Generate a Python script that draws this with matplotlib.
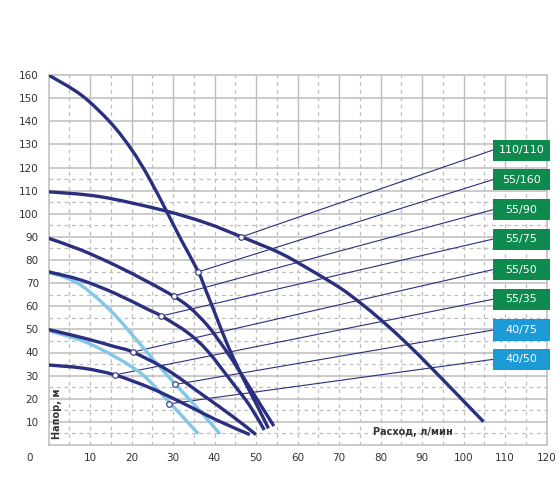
import matplotlib
matplotlib.use('Agg')
import matplotlib.pyplot as plt
from matplotlib.patches import Rectangle, PathPatch
from matplotlib.path import Path

# ---------------- data ----------------
x_ticks = [10, 20, 30, 40, 50, 60, 70, 80, 90, 100, 110, 120]
y_ticks = [10, 20, 30, 40, 50, 60, 70, 80, 90, 100, 110, 120, 130, 140, 150, 160]

# pump curves (flow l/min, head m)
c110_110_x = [0, 12.4, 27.6, 38, 46.5, 55.8, 63, 70.2, 75.1, 80.3, 86.3, 91.9, 98.4, 104.8]
c110_110_y = [109.5, 107.4, 101.5, 96, 90, 83, 75.8, 68, 61.5, 53.8, 44, 34, 22, 10.1]

c55_160_x = [0, 8, 15, 20, 24, 28.5, 32, 36.1, 38, 40, 42, 44.5, 47.5, 50.5, 53.0]
c55_160_y = [160, 151.2, 139.3, 127.8, 116.2, 100.9, 88.6, 74.9, 66.5, 57.5, 48.3, 37.8, 26.7, 16.2, 7.2]

c55_90_x = [0, 7.9, 16, 24, 30, 34, 38.4, 42.5, 46, 50, 54.3]
c55_90_y = [89.4, 84.3, 77.8, 70.5, 64.5, 59.5, 51.5, 41.5, 32, 20.5, 8.2]

c55_75_x = [0, 7.9, 16, 24, 27.2, 33.6, 38.4, 44.5, 48.5, 52.0]
c55_75_y = [74.9, 71.3, 65.6, 58.6, 55.8, 48.5, 40.5, 26.5, 17, 6.5]

c55_50_x = [0, 8.4, 16, 20.3, 28.5, 36.5, 44.5, 50.0]
c55_50_y = [49.9, 46.3, 42.5, 40.2, 32.6, 22.5, 12.2, 4.5]

c55_35_x = [0, 8.4, 16, 24.5, 32.5, 40.5, 48.5]
c55_35_y = [34.6, 33.2, 30.3, 24.7, 18, 10.8, 4.5]

c40_75_x = [0, 4, 7.9, 11.9, 16, 20, 25, 30.6, 36.5, 41.3]
c40_75_y = [74.6, 72.5, 69, 63.2, 56.2, 48, 37.5, 26.2, 14.8, 4.8]

c40_50_x = [0, 8.4, 16.4, 22.8, 29.1, 36.1]
c40_50_y = [49.4, 44.9, 37.8, 30.2, 18.5, 4.8]

labels = ['110/110', '55/160', '55/90', '55/75', '55/50', '55/35', '40/75', '40/50']
label_y = [127.5, 114.7, 101.7, 89.0, 75.8, 63.0, 49.7, 37.0]
marker_x = [46.5, 36.1, 30.2, 27.2, 20.3, 16.0, 30.6, 29.1]
marker_y = [90.0, 74.9, 64.5, 55.8, 40.2, 30.3, 26.2, 17.8]

# ---------------- styles ----------------
NAVY = '#2b2f7f'
LIGHT = '#82c6e8'
GREEN = '#0f8a4f'
BLUE = '#1b9ad6'
GRID = '#bdbdbd'
TXT = '#333333'


def smooth_path(xs, ys):
    """Cubic Bezier path through the given points (Catmull-Rom tangents)."""
    pts = list(zip(xs, ys))
    verts = [pts[0]]
    codes = [Path.MOVETO]
    n = len(pts)
    for i in range(n - 1):
        p0 = pts[i - 1] if i > 0 else pts[i]
        p1 = pts[i]
        p2 = pts[i + 1]
        p3 = pts[i + 2] if i + 2 < n else pts[i + 1]
        c1 = (p1[0] + (p2[0] - p0[0]) / 6.0, p1[1] + (p2[1] - p0[1]) / 6.0)
        c2 = (p2[0] - (p3[0] - p1[0]) / 6.0, p2[1] - (p3[1] - p1[1]) / 6.0)
        verts += [c1, c2, p2]
        codes += [Path.CURVE4] * 3
    return Path(verts, codes)


fig = plt.figure(figsize=(5.6, 5.04), dpi=100)
ax = fig.add_axes([48.5 / 560, 59 / 504, 498 / 560, 370 / 504])
ax.set_xlim(0, 120)
ax.set_ylim(0, 160)

# grid: upper zone solid, lower zone dashed verticals
for xv in range(5, 120, 5):
    ax.plot([xv, xv], [0, 120], color=GRID, lw=0.9, ls=(0, (3, 3)), zorder=1)
    if xv % 10 == 0:
        ax.plot([xv, xv], [120, 160], color=GRID, lw=1.0, zorder=1)
    else:
        ax.plot([xv, xv], [120, 160], color=GRID, lw=0.9, ls=(0, (3, 3)), zorder=1)
for yv in range(5, 160, 5):
    if yv % 10 == 0:
        ax.plot([0, 120], [yv, yv], color=GRID, lw=1.1, zorder=1)
    elif yv < 120:
        ax.plot([0, 120], [yv, yv], color=GRID, lw=0.9, ls=(0, (3, 3)), zorder=1)

for s in ax.spines.values():
    s.set_color(GRID)
    s.set_linewidth(1.1)

ax.set_xticks(x_ticks)
ax.set_yticks(y_ticks)
ax.set_xticklabels([str(v) for v in x_ticks])
ax.set_yticklabels([str(v) for v in y_ticks])
ax.tick_params(length=0, labelsize=7.5, labelcolor=TXT)
ax.tick_params(axis='x', pad=6)
ax.tick_params(axis='y', pad=7)
ax.text(-4.5, -5.6, '0', ha='center', va='center', fontsize=7.5, color=TXT, clip_on=False)

# leader lines
for mx, my, ly in zip(marker_x, marker_y, label_y):
    ax.plot([mx, 107.0], [my, ly], color=NAVY, lw=0.8, zorder=2, clip_on=False)

# curves
curves = [
    (c40_50_x, c40_50_y, LIGHT),
    (c40_75_x, c40_75_y, LIGHT),
    (c55_35_x, c55_35_y, NAVY),
    (c55_50_x, c55_50_y, NAVY),
    (c55_75_x, c55_75_y, NAVY),
    (c55_90_x, c55_90_y, NAVY),
    (c55_160_x, c55_160_y, NAVY),
    (c110_110_x, c110_110_y, NAVY),
]
for xs, ys, col in curves:
    ax.add_patch(PathPatch(smooth_path(xs, ys), facecolor='none', edgecolor=col,
                           lw=2.4, capstyle='butt', zorder=3))

# markers
ax.scatter(marker_x, marker_y, s=16, facecolor='white', edgecolor=NAVY, linewidth=0.8, zorder=5)

# label boxes
box_w = 13.9
box_h = 9.2
for lab, ly in zip(labels, label_y):
    col = BLUE if lab.startswith('40') else GREEN
    ax.add_patch(Rectangle((107.0, ly - box_h / 2), box_w, box_h, facecolor=col,
                           edgecolor='none', zorder=6, clip_on=False))
    ax.text(107.0 + box_w / 2, ly, lab, ha='center', va='center', color='white',
            fontsize=8, zorder=7, clip_on=False)

# axis titles inside plot
ax.text(2.1, 13.5, 'Напор, м', rotation=90, ha='center', va='center', fontsize=7,
        fontweight='bold', color=TXT, zorder=4)
ax.text(87.8, 5.6, 'Расход, л/мин', ha='center', va='center', fontsize=7,
        fontweight='bold', color=TXT, zorder=4)

fig.savefig('out.png', dpi=100, facecolor='white')
